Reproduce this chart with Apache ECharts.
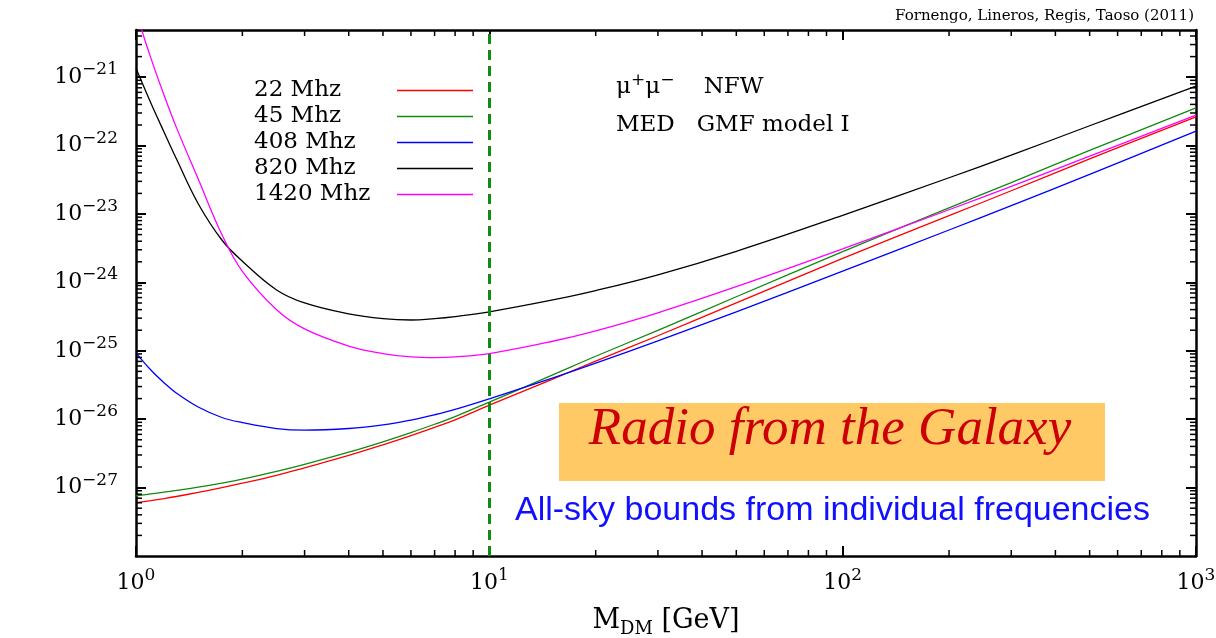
<!DOCTYPE html>
<html lang="en">
<head>
<meta charset="UTF-8">
<title>Radio from the Galaxy</title>
<script src="https://cdn.jsdelivr.net/npm/echarts@6/dist/echarts.min.js"></script>
<style>
  html, body { margin: 0; background: #fff; }
  #chart { width: 1216px; height: 638px; }
</style>
</head>
<body>
<div id="chart"></div>
<script>
// DM mass grid [GeV]
const massGeV = [1, 1.1, 1.2, 1.3, 1.5, 1.75, 2, 2.5, 3, 4, 5, 6, 7, 8, 10, 15, 20, 30, 50, 100, 200, 300, 500, 1000];

// log10 of the sigma v bound [cm^3/s], one list per frequency
const log22 = [-27.22, -27.19, -27.16, -27.13, -27.07, -27.0, -26.935, -26.82, -26.71, -26.53, -26.375, -26.24, -26.12, -26.01, -25.795, -25.42, -25.15, -24.78, -24.30, -23.65, -23.025, -22.66, -22.195, -21.58];
const log45 = [-27.12, -27.093, -27.067, -27.042, -26.994, -26.934, -26.875, -26.763, -26.66, -26.482, -26.33, -26.196, -26.074, -25.962, -25.75, -25.36, -25.08, -24.70, -24.21, -23.55, -22.91, -22.54, -22.07, -21.45];
const log408 = [-25.03, -25.278, -25.467, -25.617, -25.822, -25.975, -26.05, -26.137, -26.16, -26.136, -26.083, -26.012, -25.935, -25.857, -25.702, -25.403, -25.18, -24.855, -24.43, -23.836, -23.234, -22.877, -22.42, -21.788];
const log820 = [-20.87, -21.37, -21.80, -22.19, -22.85, -23.38, -23.69, -24.11, -24.30, -24.46, -24.53, -24.55, -24.53, -24.50, -24.43, -24.26, -24.12, -23.89, -23.546, -23.02, -22.47, -22.14, -21.71, -21.13];
const log1420 = [-20.05, -20.71, -21.26, -21.73, -22.49, -23.30, -23.84, -24.40, -24.68, -24.93, -25.04, -25.09, -25.10, -25.09, -25.04, -24.864, -24.708, -24.444, -24.062, -23.51, -22.938, -22.595, -22.155, -21.553];

const freqNames = ['22 Mhz', '45 Mhz', '408 Mhz', '820 Mhz', '1420 Mhz'];
const freqColors = ['#ff0000', '#108a10', '#0000ff', '#000000', '#ff00ff'];

const thermalSv = 3e-26;   // orange line
const cutMass = 10;        // dashed green line

// axis furniture
const minorMult = [2, 3, 4, 5, 6, 7, 8, 9];
const xDecades = [1, 10, 100];
const yDecades = [-28, -27, -26, -25, -24, -23, -22, -21];
const xMin = 1, xMax = 1000;
const yMin = 1e-28, yMax = Math.pow(10, -20.31);

const serif = 'DejaVu Serif';

function expOf(v) {
  const e = Math.log10(v);
  const r = Math.round(e);
  return Math.abs(e - r) < 1e-6 ? r : null;
}

function powLabel(v) {
  const n = expOf(v);
  if (n === null) return '';
  return '{b|10}{s|' + (n < 0 ? '\u2212' + (-n) : n) + '}';
}

const labelRich = {
  b: { fontFamily: serif, fontSize: 22, color: '#000', lineHeight: 30 },
  s: { fontFamily: serif, fontSize: 17, color: '#000', lineHeight: 17, padding: [0, 0, 15, 0] }
};

const frame = { show: true, onZero: false, lineStyle: { color: '#000', width: 2.5 } };
const majorTick = { show: true, inside: true, length: 10, lineStyle: { color: '#000', width: 2 } };

const xMinorData = [];
xDecades.forEach(d => minorMult.forEach(m => xMinorData.push([d * m, 1e-27])));
const yMinorData = [];
yDecades.forEach(d => minorMult.forEach(m => {
  const v = m * Math.pow(10, d);
  if (v < yMax) yMinorData.push([10, v]);
}));

function minorXTick(params, api) {
  const cs = params.coordSys;
  const x = api.coord([api.value(0), 1e-27])[0];
  const st = { stroke: '#000', lineWidth: 1.5 };
  const yb = cs.y + cs.height;
  return {
    type: 'group', children: [
      { type: 'line', shape: { x1: x, y1: yb, x2: x, y2: yb - 6 }, style: st },
      { type: 'line', shape: { x1: x, y1: cs.y, x2: x, y2: cs.y + 6 }, style: st }
    ]
  };
}

function minorYTick(params, api) {
  const cs = params.coordSys;
  const y = api.coord([10, api.value(1)])[1];
  const st = { stroke: '#000', lineWidth: 1.5 };
  const xr = cs.x + cs.width;
  return {
    type: 'group', children: [
      { type: 'line', shape: { x1: cs.x, y1: y, x2: cs.x + 6, y2: y }, style: st },
      { type: 'line', shape: { x1: xr, y1: y, x2: xr - 6, y2: y }, style: st }
    ]
  };
}

const curves = [log22, log45, log408, log820, log1420];

const series = curves.map((logs, i) => ({
  name: freqNames[i],
  type: 'line',
  data: massGeV.map((m, k) => [m, Math.pow(10, logs[k])]),
  symbol: 'none',
  showSymbol: false,
  smooth: 0.4,
  lineStyle: { color: freqColors[i], width: 1.3 },
  itemStyle: { color: freqColors[i] },
  z: 3
}));

series.push({
  name: 'bounds',
  type: 'line',
  data: [],
  silent: true,
  z: 5,
  markLine: {
    silent: true,
    symbol: 'none',
    label: { show: false },
    animation: false,
    data: [
      { yAxis: thermalSv, lineStyle: { color: '#ffa500', width: 4, type: 'solid' } },
      { xAxis: cutMass, lineStyle: { color: '#108a10', width: 3, type: [10, 6] } }
    ]
  }
});

series.push({
  type: 'custom', name: 'xminor', renderItem: minorXTick, data: xMinorData,
  silent: true, clip: false, z: 6
});
series.push({
  type: 'custom', name: 'yminor', renderItem: minorYTick, data: yMinorData,
  silent: true, clip: false, z: 6
});

const chart = echarts.init(document.getElementById('chart'));
chart.setOption({
  backgroundColor: '#fff',
  animation: false,
  grid: { left: 136, right: 20, top: 30, bottom: 82, outerBoundsMode: 'none' },
  title: {
    text: 'Fornengo, Lineros, Regis, Taoso (2011)',
    right: 22, top: 9,
    padding: 0,
    textStyle: { fontFamily: serif, fontSize: 15, fontWeight: 'normal', color: '#000' }
  },
  legend: {
    data: freqNames,
    orient: 'vertical',
    left: 254, top: 79,
    padding: 0,
    itemGap: 3,
    align: 'right',
    icon: 'rect',
    itemWidth: 76,
    itemHeight: 1.5,
    selectedMode: false,
    formatter: name => '{t|' + name + '}',
    textStyle: {
      rich: { t: { fontFamily: serif, fontSize: 23, color: '#000', width: 138, align: 'left', lineHeight: 26 } }
    }
  },
  xAxis: [{
    type: 'log', logBase: 10, min: xMin, max: xMax, splitNumber: 3,
    position: 'bottom',
    name: '{m|M}{d|DM}{m| [GeV]}',
    nameLocation: 'middle', nameGap: 46,
    nameTextStyle: {
      rich: {
        m: { fontFamily: serif, fontSize: 27, color: '#000', lineHeight: 32 },
        d: { fontFamily: serif, fontSize: 18, color: '#000', lineHeight: 18, padding: [16, 0, 0, 0] }
      }
    },
    axisLine: frame, axisTick: majorTick, splitLine: { show: false },
    axisLabel: { margin: 12, formatter: powLabel, rich: labelRich }
  }, {
    type: 'log', logBase: 10, min: xMin, max: xMax, splitNumber: 3,
    position: 'top',
    axisLine: frame, axisTick: majorTick, splitLine: { show: false },
    axisLabel: { show: false }
  }],
  yAxis: [{
    type: 'log', logBase: 10, min: yMin, max: yMax, splitNumber: 8,
    position: 'left',
    name: '{a|\u03c3v [cm}{s|3}{a|/s]}',
    nameLocation: 'middle', nameGap: 88,
    nameTextStyle: {
      rich: {
        a: { fontFamily: serif, fontSize: 27, color: '#000', lineHeight: 32 },
        s: { fontFamily: serif, fontSize: 18, color: '#000', lineHeight: 18, padding: [0, 0, 16, 0] }
      }
    },
    axisLine: frame, axisTick: majorTick, splitLine: { show: false },
    axisLabel: { margin: 18, formatter: powLabel, rich: labelRich }
  }, {
    type: 'log', logBase: 10, min: yMin, max: yMax, splitNumber: 8,
    position: 'right',
    axisLine: frame, axisTick: majorTick, splitLine: { show: false },
    axisLabel: { show: false }
  }],
  graphic: [
    {
      type: 'text', left: 616, top: 72, z: 10,
      style: {
        text: '{g|\u03bc}{p|+}{g|\u03bc}{p|\u2212}{g|    NFW}',
        rich: {
          g: { fontFamily: serif, fontSize: 23, fill: '#000', lineHeight: 30 },
          p: { fontFamily: serif, fontSize: 17, fill: '#000', lineHeight: 17, padding: [0, 0, 14, 0] }
        }
      }
    },
    {
      type: 'text', left: 616, top: 114, z: 10,
      style: { text: 'MED   GMF model I', font: '23px "DejaVu Serif"', fill: '#000' }
    },
    {
      type: 'rect', shape: { x: 559, y: 403, width: 546, height: 78 }, z: 8,
      style: { fill: '#ffc966' }
    },
    {
      type: 'text', x: 830, y: 430, z: 10,
      style: {
        text: 'Radio from the Galaxy', fill: '#cc0000',
        font: 'italic 53px "Liberation Serif"', textAlign: 'center', textVerticalAlign: 'middle'
      }
    },
    {
      type: 'text', x: 515, y: 511, z: 10,
      style: {
        text: 'All-sky bounds from individual frequencies', fill: '#1010ff',
        font: '34px "Liberation Sans"', textAlign: 'left', textVerticalAlign: 'middle'
      }
    }
  ],
  series: series
});
</script>
</body>
</html>
